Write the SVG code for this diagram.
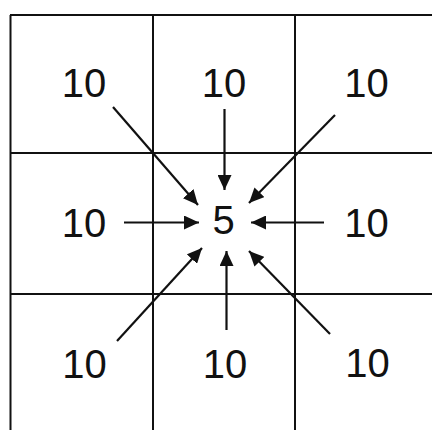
<svg xmlns="http://www.w3.org/2000/svg" width="432" height="430" viewBox="0 0 432 430">
<style>
.grid{stroke:#111;stroke-width:2;fill:none}
.arr{stroke:#111;stroke-width:2.2;fill:none;marker-end:url(#ah)}
.t{font-family:"Liberation Sans",Arial,Helvetica,sans-serif;font-size:40px;fill:#111;text-anchor:middle}
</style>
<defs>
<marker id="ah" markerUnits="userSpaceOnUse" markerWidth="16" markerHeight="14" refX="15" refY="7" orient="auto">
<path d="M0,0 L15,7 L0,14 Z" fill="#111"/>
</marker>
</defs>
<rect width="432" height="430" fill="#fff"/>
<g id="grid">
<path class="grid" d="M10.5,15 V430 M153,15 V430 M295,15 V430 M10,15 H432 M10,153 H432 M10,294 H432"/>
</g>
<g id="connectors">
<line class="arr" x1="113" y1="107" x2="198" y2="205"/>
<line class="arr" x1="224.5" y1="109" x2="224.5" y2="190"/>
<line class="arr" x1="335" y1="115" x2="249" y2="203"/>
<line class="arr" x1="124" y1="222.5" x2="199" y2="222.5"/>
<line class="arr" x1="324" y1="222.5" x2="251" y2="222.5"/>
<line class="arr" x1="117" y1="341" x2="202" y2="248"/>
<line class="arr" x1="226.5" y1="330" x2="226.5" y2="251"/>
<line class="arr" x1="330" y1="334" x2="249" y2="251"/>
</g>
<g id="n-tl"><text class="t" x="84" y="97">10</text></g>
<g id="n-tm"><text class="t" x="224" y="97">10</text></g>
<g id="n-tr"><text class="t" x="366.5" y="97">10</text></g>
<g id="n-ml"><text class="t" x="84" y="237">10</text></g>
<g id="n-c"><text class="t" x="223.5" y="234">5</text></g>
<g id="n-mr"><text class="t" x="366.5" y="237">10</text></g>
<g id="n-bl"><text class="t" x="84.5" y="378">10</text></g>
<g id="n-bm"><text class="t" x="225" y="378">10</text></g>
<g id="n-br"><text class="t" x="367.5" y="377">10</text></g>
</svg>
